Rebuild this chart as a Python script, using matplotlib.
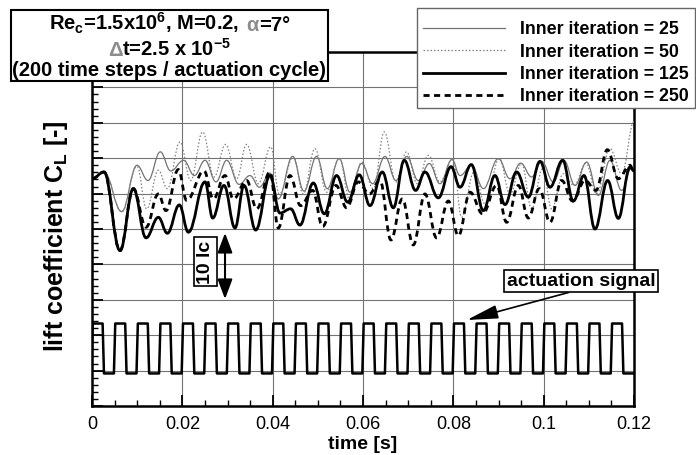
import matplotlib
matplotlib.use('Agg')
import matplotlib.pyplot as plt
from matplotlib.path import Path
from matplotlib.patches import PathPatch, Rectangle
from matplotlib.lines import Line2D
from matplotlib.offsetbox import TextArea, HPacker, VPacker, AnchoredOffsetbox
from matplotlib.ticker import MultipleLocator, NullFormatter

plt.rcParams['font.family'] = ['Liberation Sans', 'DejaVu Sans']
plt.rcParams['mathtext.fontset'] = 'custom'
plt.rcParams['mathtext.rm'] = 'Liberation Sans:bold'
plt.rcParams['mathtext.bf'] = 'Liberation Sans:bold'
plt.rcParams['mathtext.it'] = 'Liberation Sans:bold'
plt.rcParams['mathtext.default'] = 'bf'

# extrema of the lift coefficient traces (time [s], CL in grid divisions)
t25 = [0.0, 0.00266, 0.00657, 0.00996, 0.0124, 0.01513, 0.01742, 0.0203, 0.02266, 0.02502,
       0.02745, 0.02982, 0.03255, 0.03498, 0.03705, 0.03941, 0.04125, 0.04442, 0.04693, 0.04973,
       0.05209, 0.05475, 0.05711, 0.0597, 0.06213, 0.06486, 0.0673, 0.06966, 0.07224, 0.07468,
       0.07704, 0.0797, 0.08147, 0.08406, 0.08664, 0.08996, 0.09254, 0.09491, 0.09734, 0.09956,
       0.10214, 0.1045, 0.10694, 0.10952, 0.1121, 0.11468, 0.11727, 0.11948, 0.12]
cl25 = [6.42, 6.61, 5.49, 6.80, 6.37, 7.18, 6.64, 6.94, 6.51, 6.94,
        6.33, 6.94, 6.26, 6.51, 6.18, 6.58, 5.85, 7.05, 6.07, 7.05,
        6.14, 6.99, 6.04, 6.85, 6.28, 7.05, 6.37, 7.05, 6.37, 6.85,
        6.28, 6.96, 6.51, 6.80, 6.14, 6.99, 6.42, 6.86, 6.47, 6.91,
        6.33, 6.94, 6.23, 6.89, 5.95, 6.94, 6.09, 6.73, 6.66]

t50 = [0.0, 0.00266, 0.00657, 0.00996, 0.0121, 0.01469, 0.01668, 0.01948, 0.02184, 0.0245,
       0.02701, 0.02959, 0.03203, 0.03424, 0.03683, 0.03956, 0.04147, 0.04457, 0.04678, 0.04936,
       0.05195, 0.05475, 0.05711, 0.0597, 0.06228, 0.06471, 0.0673, 0.06966, 0.07202, 0.07446,
       0.07704, 0.0799, 0.08184, 0.08457, 0.08701, 0.0902, 0.09254, 0.0951, 0.09734, 0.09978,
       0.10177, 0.10435, 0.10671, 0.10937, 0.11173, 0.11468, 0.11727, 0.12]
cl50 = [6.42, 6.61, 5.49, 6.77, 5.57, 6.66, 6.14, 7.46, 6.37, 7.74,
        6.47, 7.39, 6.42, 7.39, 6.28, 7.32, 5.99, 7.04, 5.99, 7.27,
        6.04, 6.99, 5.81, 6.89, 6.14, 7.74, 6.33, 7.18, 6.28, 7.08,
        6.33, 7.00, 5.33, 6.61, 5.71, 6.99, 5.99, 6.85, 5.57, 6.70,
        5.57, 6.56, 6.23, 6.86, 5.99, 7.27, 6.56, 8.03]

t125 = [0.0, 0.00266, 0.0062, 0.00915, 0.01196, 0.01469, 0.01668, 0.01934, 0.02133, 0.02502,
        0.02672, 0.02922, 0.03166, 0.03365, 0.03624, 0.03941, 0.04161, 0.04398, 0.04604, 0.04899,
        0.05143, 0.05416, 0.0566, 0.05918, 0.06154, 0.06427, 0.06671, 0.06914, 0.07165, 0.07372,
        0.07667, 0.0795, 0.08147, 0.08398, 0.08664, 0.08922, 0.09144, 0.09402, 0.0966, 0.09919,
        0.1014, 0.1042, 0.10657, 0.10893, 0.11136, 0.11417, 0.11653, 0.11911, 0.12]
cl125 = [6.42, 6.61, 4.39, 6.14, 4.75, 5.33, 4.88, 5.68, 4.91, 6.33,
         5.31, 6.23, 5.03, 6.23, 4.97, 6.51, 5.45, 5.57, 5.11, 6.30,
         5.43, 6.51, 5.76, 6.53, 5.66, 6.61, 5.60, 6.94, 6.09, 6.61,
         5.88, 6.76, 6.18, 6.82, 5.52, 6.51, 5.69, 6.61, 5.90, 6.91,
         6.18, 6.94, 5.79, 6.51, 5.00, 6.37, 5.30, 6.75, 6.64]

t250 = [0.0, 0.00266, 0.0062, 0.00915, 0.01196, 0.01469, 0.01638, 0.01911, 0.02096, 0.0248,
        0.02686, 0.02945, 0.03129, 0.03424, 0.03646, 0.03941, 0.04125, 0.04383, 0.04619, 0.04885,
        0.05106, 0.05401, 0.05637, 0.05896, 0.0614, 0.06375, 0.06619, 0.0687, 0.07113, 0.07372,
        0.0763, 0.07889, 0.08111, 0.08369, 0.08649, 0.08959, 0.09181, 0.09439, 0.0966, 0.09904,
        0.1014, 0.10398, 0.10642, 0.10915, 0.11158, 0.11409, 0.11653, 0.11911, 0.12]
cl250 = [6.42, 6.61, 4.39, 6.14, 5.05, 5.99, 5.52, 6.68, 5.81, 6.64,
         5.85, 6.51, 5.85, 6.37, 5.57, 6.61, 5.03, 6.51, 5.66, 6.09,
         5.07, 6.23, 5.60, 6.33, 5.99, 6.37, 4.69, 5.85, 4.55, 5.99,
         4.75, 5.79, 4.81, 6.04, 5.43, 6.23, 5.19, 6.23, 5.31, 6.14,
         5.19, 6.37, 5.79, 6.37, 6.09, 7.24, 6.42, 6.80, 6.61]

# actuation signal: pulse start times, width and levels
pulse_starts = [0.000, 0.005, 0.010, 0.015, 0.020, 0.025, 0.030, 0.035, 0.040, 0.045, 0.050, 0.055,
                0.060, 0.065, 0.070, 0.075, 0.080, 0.085, 0.090, 0.095, 0.100, 0.105, 0.110, 0.115]
pulse_width = 0.0025
act_high = 2.33
act_low = 0.92

labels = ['Inner iteration = 25', 'Inner iteration = 50',
          'Inner iteration = 125', 'Inner iteration = 250']
xticks = [0, 0.02, 0.04, 0.06, 0.08, 0.1, 0.12]
xticklabels = ['0', '0.02', '0.04', '0.06', '0.08', '0.1', '0.12']


def smooth_path(ts, vals):
    # bezier segments with flat tangents at each read extremum
    verts = [(ts[0], vals[0])]
    codes = [Path.MOVETO]
    for i in range(1, len(ts)):
        dt = ts[i] - ts[i - 1]
        verts += [(ts[i - 1] + 0.4 * dt, vals[i - 1]), (ts[i] - 0.4 * dt, vals[i]), (ts[i], vals[i])]
        codes += [Path.CURVE4] * 3
    return Path(verts, codes)


fig = plt.figure(figsize=(6.96, 4.55), dpi=100)
ax = fig.add_axes([92 / 696, 49 / 455, 542 / 696, 354 / 455])

styles = [
    dict(color='0.45', lw=0.9, ls='-'),
    dict(color='0.5', lw=0.9, ls=(0, (1.2, 1.6))),
    dict(color='black', lw=2.0, ls='-'),
    dict(color='black', lw=2.0, ls=(0, (2.2, 1.6))),
]
series = [(t25, cl25), (t50, cl50), (t125, cl125), (t250, cl250)]
for (ts, vals), st in zip(series, styles):
    ax.add_patch(PathPatch(smooth_path(ts, vals), fill=False, edgecolor=st['color'],
                           lw=st['lw'], ls=st['ls'], zorder=3))

ramp = 0.0003
sx, sy = [], []
for s in pulse_starts:
    sx += [s - ramp / 2, s + ramp / 2, s + pulse_width - ramp / 2, s + pulse_width + ramp / 2]
    sy += [act_low, act_high, act_high, act_low]
sx.append(0.12)
sy.append(act_low)
ax.plot(sx, sy, color='black', lw=1.8, zorder=3)

ax.set_xlim(0, 0.12)
ax.set_ylim(0, 10)
ax.set_xticks(xticks)
ax.set_xticklabels(xticklabels)
ax.xaxis.set_minor_locator(MultipleLocator(0.005))
ax.yaxis.set_major_locator(MultipleLocator(1))
ax.yaxis.set_minor_locator(MultipleLocator(0.2))
ax.yaxis.set_major_formatter(NullFormatter())
ax.tick_params(which='major', direction='in', length=8, width=1.3, labelsize=13, pad=7)
ax.tick_params(which='minor', direction='in', length=4, width=1.0)
ax.grid(True, which='major', color='0.45', lw=0.8)
for sp in ax.spines.values():
    sp.set_linewidth(1.8)

ax.set_xlabel('time [s]', fontsize=14, fontweight='bold')
ax.xaxis.set_label_coords(0.5, -0.084)
ax.set_ylabel('lift coefficient C$_L$ [-]', fontsize=18, fontweight='bold')
ax.yaxis.set_label_coords(-0.04, 0.48)

ax.text(0.0252, 4.07, '10 lc', rotation=90, ha='center', va='center', fontsize=14,
        fontweight='bold', zorder=5,
        bbox=dict(boxstyle='square,pad=0.15', fc='white', ec='black', lw=1.2))
ax.annotate('', xy=(0.02945, 4.89), xytext=(0.02945, 3.02),
            arrowprops=dict(arrowstyle='<|-|>,head_length=0.8,head_width=0.3', color='black',
                            lw=1.5, shrinkA=0, shrinkB=0, mutation_scale=15), zorder=5)
ax.annotate('actuation signal', xy=(0.083, 2.43), xytext=(0.10826, 3.53), ha='center', va='center',
            fontsize=14, fontweight='bold', zorder=6, annotation_clip=False,
            bbox=dict(boxstyle='square,pad=0.12', fc='white', ec='black', lw=1.2),
            arrowprops=dict(arrowstyle='-|>,head_length=1.6,head_width=0.35', color='black', lw=1.2,
                            shrinkA=0, shrinkB=0, mutation_scale=12, relpos=(0.49, 0)))

# legend: frame drawn separately so the rows sit where they do in the original
fig.add_artist(Rectangle((417 / 696, 1 - 108 / 455), 278 / 696, 100 / 455, transform=fig.transFigure,
                         fc='white', ec='0.4', lw=1.0, zorder=9))
handles = [Line2D([], [], color=st['color'], lw=st['lw'], ls=st['ls']) for st in styles]
leg = fig.legend(handles, labels, loc='upper left', bbox_to_anchor=(423 / 696, 1 - 21.5 / 455),
                 borderaxespad=0, borderpad=0, frameon=False,
                 prop=dict(family='Liberation Sans', weight='bold', size=12.75),
                 handlelength=4.65, handletextpad=0.85, labelspacing=0.29)
leg.set_zorder(10)

tp = dict(fontsize=14.5, fontweight='bold', color='black')
gp = dict(fontsize=14.5, fontweight='bold', color='0.55')
alpha_part = HPacker(children=[TextArea('\u03b1', textprops=gp), TextArea('=7\u00b0', textprops=tp)],
                     align='baseline', pad=0, sep=0)
line1 = HPacker(children=[TextArea('Re$_c$=1.5x10$^6$, M=0.2,', textprops=tp), alpha_part],
                align='baseline', pad=0, sep=5)
line2 = HPacker(children=[TextArea('\u0394', textprops=gp),
                          TextArea('t=2.5 x 10$^{-5}$', textprops=tp)], align='baseline', pad=0, sep=0)
line3 = TextArea('(200 time steps / actuation cycle)', textprops=tp)
vbox = VPacker(children=[line1, line2, line3], align='center', pad=0, sep=1)
abox = AnchoredOffsetbox(loc='center', child=vbox, pad=0.1, borderpad=0, frameon=True,
                         bbox_to_anchor=(169.5 / 696, 1 - 45.5 / 455), bbox_transform=fig.transFigure)
abox.patch.set_boxstyle('square', pad=0)
abox.patch.set_linewidth(1.5)
abox.patch.set_edgecolor('black')
abox.set_zorder(10)
fig.add_artist(abox)

fig.savefig('out.png', dpi=100)
